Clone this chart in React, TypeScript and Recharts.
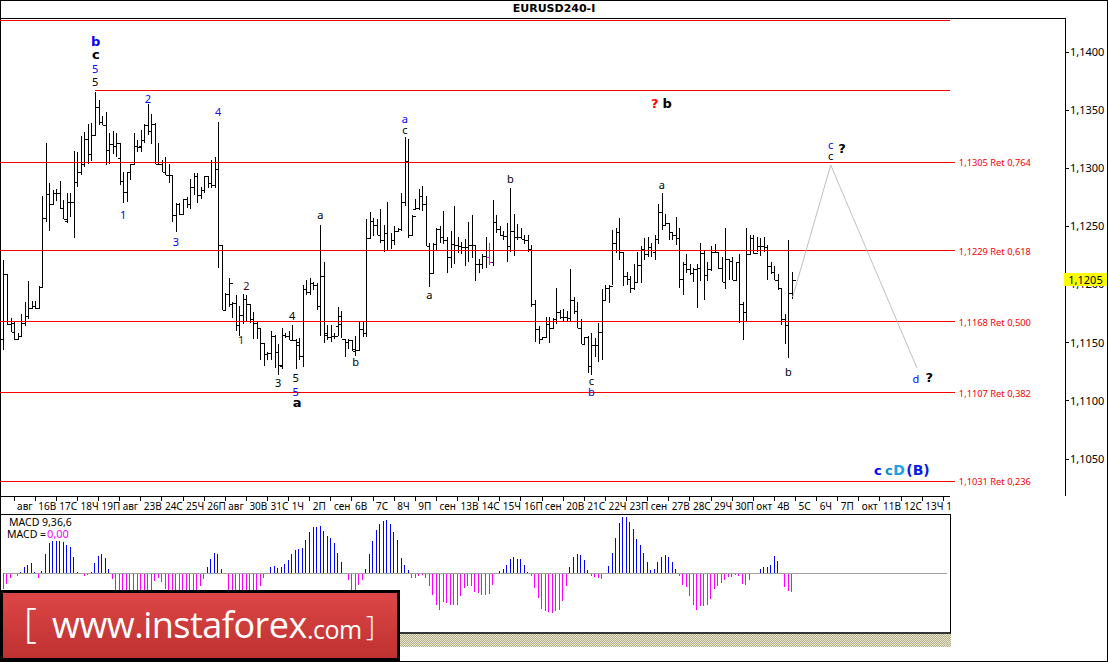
import React from 'react';
import { ComposedChart, Bar, Cell, Line, XAxis, YAxis, ReferenceLine, ReferenceDot } from 'recharts';

// prices in 1/10000, bar index starts at 1
const opens = [
  11153,11209,11166,11159,11153,11156,11167,11173,11180,11182,11180,11198,11257,11278,11269,11279,11279,11266,11255,11271,
  11271,11288,11297,11304,11325,11312,11329,11353,11340,11337,11316,11321,11319,11309,11289,11280,11297,11304,11319,11319,
  11324,11337,11332,11338,11304,11304,11297,11294,11294,11260,11269,11261,11274,11269,11284,11293,11277,11281,11293,11287,
  11286,11299,11234,11178,11192,11183,11184,11165,11174,11188,11183,11170,11167,11163,11150,11140,11141,11156,11142,11130,
  11157,11156,11152,11152,11148,11139,11196,11194,11201,11200,11182,11207,11157,11155,11156,11164,11166,11153,11151,11152,
  11143,11144,11162,11158,11240,11255,11251,11243,11238,11244,11230,11238,11246,11248,11271,11306,11243,11265,11266,11276,
  11269,11233,11210,11235,11248,11241,11238,11224,11235,11234,11233,11232,11232,11234,11234,11218,11218,11225,11224,11219,
  11254,11248,11243,11242,11233,11246,11241,11241,11239,11238,11231,11183,11162,11153,11155,11166,11163,11170,11176,11172,
  11172,11171,11187,11177,11163,11149,11155,11130,11148,11148,11159,11187,11197,11199,11236,11245,11228,11207,11205,11197,
  11202,11217,11231,11226,11232,11228,11239,11262,11251,11253,11245,11243,11240,11205,11218,11213,11210,11213,11214,11227,
  11208,11213,11228,11228,11214,11202,11222,11220,11204,11219,11183,11176,11226,11240,11227,11233,11233,11232,11216,11211,
  11204,11197,11170,11165,11193,
];
const highs = [
  11221,11209,11171,11168,11158,11175,11185,11203,11186,11186,11199,11276,11322,11287,11281,11282,11289,11273,11279,11279,
  11315,11314,11328,11331,11338,11339,11366,11359,11345,11348,11330,11332,11330,11322,11297,11297,11304,11330,11324,11333,
  11338,11355,11347,11339,11322,11307,11310,11304,11294,11270,11270,11274,11275,11291,11296,11296,11284,11293,11293,11307,
  11310,11340,11234,11193,11206,11185,11191,11182,11192,11191,11183,11176,11168,11163,11150,11142,11160,11157,11149,11163,
  11158,11160,11165,11153,11154,11200,11204,11206,11202,11201,11251,11219,11165,11165,11158,11181,11177,11152,11153,11152,
  11156,11168,11168,11256,11262,11257,11256,11265,11251,11271,11244,11250,11249,11279,11327,11325,11260,11274,11282,11285,
  11276,11236,11236,11249,11250,11263,11241,11246,11268,11241,11237,11239,11254,11260,11234,11222,11226,11241,11236,11273,
  11260,11250,11246,11253,11283,11261,11252,11249,11243,11243,11234,11187,11164,11155,11172,11172,11171,11197,11178,11179,
  11177,11213,11189,11185,11170,11155,11156,11158,11154,11167,11196,11200,11200,11247,11249,11257,11228,11211,11207,11218,
  11228,11233,11240,11241,11236,11243,11269,11279,11261,11253,11245,11258,11249,11219,11226,11218,11214,11218,11236,11230,
  11219,11233,11235,11228,11224,11249,11222,11224,11219,11226,11185,11249,11243,11243,11241,11240,11241,11234,11219,11216,
  11209,11197,11175,11238,11211,
];
const lows = [
  11144,11165,11159,11152,11152,11156,11164,11170,11179,11179,11179,11198,11254,11246,11269,11272,11265,11256,11253,11258,
  11240,11284,11294,11301,11304,11306,11329,11337,11337,11303,11304,11312,11310,11286,11270,11271,11290,11304,11314,11314,
  11322,11329,11321,11304,11303,11297,11294,11287,11254,11245,11260,11261,11266,11265,11277,11270,11274,11279,11283,11283,
  11283,11214,11178,11178,11181,11171,11160,11156,11166,11168,11167,11153,11153,11135,11130,11135,11135,11128,11122,11127,
  11154,11152,11152,11127,11135,11129,11191,11191,11195,11178,11156,11150,11152,11151,11153,11156,11154,11138,11145,11143,
  11139,11144,11155,11155,11240,11242,11243,11236,11228,11229,11231,11234,11245,11246,11268,11240,11243,11264,11264,11263,
  11233,11198,11210,11229,11236,11235,11210,11214,11218,11227,11226,11216,11219,11223,11203,11210,11213,11214,11217,11216,
  11244,11242,11238,11219,11228,11225,11238,11239,11235,11228,11181,11151,11149,11152,11155,11150,11163,11166,11170,11169,
  11168,11169,11175,11163,11149,11149,11124,11122,11138,11133,11135,11187,11184,11200,11227,11221,11199,11200,11193,11195,
  11202,11201,11221,11224,11224,11221,11235,11247,11251,11238,11238,11234,11197,11191,11210,11208,11202,11180,11203,11187,
  11203,11212,11228,11213,11202,11196,11204,11204,11204,11167,11152,11168,11226,11226,11228,11225,11228,11204,11209,11204,
  11195,11165,11149,11137,11188,
];
const closes = [
  11209,11166,11167,11153,11156,11167,11173,11180,11182,11180,11198,11257,11278,11269,11279,11279,11266,11256,11271,11271,
  11288,11297,11304,11325,11312,11329,11353,11340,11337,11316,11321,11319,11322,11289,11280,11297,11304,11319,11318,11324,
  11337,11332,11338,11304,11304,11297,11294,11294,11260,11269,11261,11274,11269,11284,11293,11277,11281,11293,11287,11286,
  11299,11234,11178,11192,11201,11184,11165,11174,11188,11183,11170,11167,11163,11150,11140,11141,11156,11142,11131,11157,
  11156,11152,11152,11151,11139,11196,11194,11201,11200,11182,11207,11158,11155,11156,11156,11173,11153,11151,11152,11145,
  11144,11162,11158,11240,11255,11251,11243,11238,11244,11230,11238,11246,11248,11271,11306,11243,11259,11266,11276,11269,
  11233,11210,11235,11248,11241,11238,11224,11235,11234,11233,11232,11232,11234,11234,11218,11218,11225,11224,11219,11254,
  11248,11243,11242,11233,11246,11241,11241,11239,11238,11231,11183,11162,11153,11155,11166,11163,11170,11176,11172,11172,
  11171,11187,11177,11163,11149,11155,11130,11148,11148,11159,11187,11197,11199,11236,11245,11228,11207,11205,11197,11202,
  11217,11231,11226,11232,11230,11239,11262,11251,11253,11245,11243,11240,11205,11218,11213,11210,11213,11214,11227,11208,
  11213,11228,11228,11214,11202,11222,11220,11204,11219,11183,11176,11226,11240,11227,11233,11233,11232,11216,11211,11204,
  11197,11170,11165,11193,11204,
];
const MAGENTA_BAR = 139;

const macdValues = [
  -48,-33,-14,-3,-8,2,18,24,30,4,-14,6,58,90,96,96,96,92,84,78,
  48,3,0,-8,-5,4,30,52,58,45,12,-17,-55,-60,-65,-70,-70,-68,-65,-62,
  -58,-55,-52,-25,-15,-27,-48,-55,-60,-65,-68,-68,-65,-60,-55,-50,-40,-18,17,43,
  60,57,12,0,-55,-70,-80,-85,-85,-80,-75,-70,-55,-38,-14,1,18,20,15,18,
  28,40,58,68,72,74,98,123,137,137,140,125,112,105,90,60,32,0,-22,-50,
  -50,-35,-20,12,58,95,128,148,156,158,148,122,98,45,25,10,
  -14,-14,-10,-7,-14,-40,-65,-97,-110,-88,-90,-95,-97,-95,-68,-45,-38,-40,-58,-60,
  -65,-67,-62,-35,-4,7,13,25,43,47,43,43,25,4,-10,-45,-75,-107,-115,-118,
  -121,-115,-110,-83,-38,17,49,58,55,40,10,-8,-13,-14,-17,0,20,60,105,150,
  168,168,153,132,102,85,60,32,10,13,32,48,55,47,34,13,-10,-35,-42,-70,
  -95,-110,-100,-100,-97,-77,-47,-38,-30,-20,-13,-13,-7,-10,-33,-35,-20,0,1,13,
  19,17,25,52,37,0,-42,-55,-58,
];

const timeLabels = [
  'авг','16В','17С','18Ч','19П','авг','23В','24С','25Ч','26П','авг','30В','31С','1Ч','2П','сен','6В','7С','8Ч','9П',
  'сен','13В','14С','15Ч','16П','сен','20В','21С','22Ч','23П','сен','27В','28С','29Ч','30П','окт','4В','5С','6Ч','7П',
  'окт','11В','12С','13Ч','1',
];
const timeTicks = timeLabels.map((_, k) => 4 + 6 * k);
const priceTicks = [1.105, 1.11, 1.115, 1.12, 1.125, 1.13, 1.135, 1.14];

const fibLevels = [
  { price: 1.1305, text: '1,1305 Ret 0,764' },
  { price: 1.1229, text: '1,1229 Ret 0,618' },
  { price: 1.1168, text: '1,1168 Ret 0,500' },
  { price: 1.1107, text: '1,1107 Ret 0,382' },
  { price: 1.1031, text: '1,1031 Ret 0,236' },
];
const plainLevels = [1.14275, 1.13665];
const forecast = [
  { i: 225.2, p: 1.11893 },
  { i: 236, p: 1.13028 },
  { i: 260.5, p: 1.11283 },
];

const BLUE = '#0000ff';
const BLACK = '#000000';
const waveLabels = [
  { i: 27.2, p: 1.1409, t: 'b', c: BLUE, b: true },
  { i: 27.2, p: 1.1397, t: 'c', c: BLACK, b: true },
  { i: 27, p: 1.1385, t: '5', c: BLUE },
  { i: 27, p: 1.1374, t: '5', c: BLACK },
  { i: 42, p: 1.136, t: '2', c: BLUE },
  { i: 62, p: 1.1348, t: '4', c: '#3010e0' },
  { i: 35, p: 1.126, t: '1', c: BLUE },
  { i: 50, p: 1.1237, t: '3', c: BLUE },
  { i: 91, p: 1.126, t: 'a', c: BLACK },
  { i: 115, p: 1.1342, t: 'a', c: BLUE },
  { i: 115, p: 1.1333, t: 'c', c: BLACK },
  { i: 122, p: 1.1191, t: 'a', c: BLACK },
  { i: 145, p: 1.1291, t: 'b', c: BLACK },
  { i: 168, p: 1.1117, t: 'c', c: BLACK },
  { i: 168, p: 1.1108, t: 'b', c: BLUE },
  { i: 188, p: 1.1286, t: 'a', c: BLACK },
  { i: 224, p: 1.1125, t: 'b', c: BLACK },
  { i: 68.5, p: 1.1152, t: '1', c: '#401010' },
  { i: 70, p: 1.1199, t: '2', c: '#401010' },
  { i: 79, p: 1.1115, t: '3', c: BLACK },
  { i: 83, p: 1.1173, t: '4', c: BLACK },
  { i: 84, p: 1.112, t: '5', c: BLACK },
  { i: 84, p: 1.1108, t: '5', c: BLUE },
  { i: 84.4, p: 1.1098, t: 'a', c: BLACK, b: true },
  { i: 101, p: 1.1133, t: 'b', c: BLACK },
  { i: 186, p: 1.1355, t: '?', c: '#ff0000', b: true },
  { i: 189.5, p: 1.1355, t: 'b', c: BLACK, b: true },
  { i: 236, p: 1.132, t: 'c', c: BLUE },
  { i: 236, p: 1.1311, t: 'c', c: BLACK },
  { i: 239.2, p: 1.1317, t: '?', c: BLACK, b: true },
  { i: 260.2, p: 1.1119, t: 'd', c: BLUE },
  { i: 264, p: 1.112, t: '?', c: BLACK, b: true },
  { i: 249.4, p: 1.104, t: 'c', c: BLUE, b: true },
  { i: 252.5, p: 1.104, t: 'c', c: '#0090d0', b: true },
  { i: 255.4, p: 1.104, t: 'D', c: '#20a0e0', b: true, s: 14 },
  { i: 260.8, p: 1.104, t: '(B)', c: '#0a20e0', b: true, s: 14 },
];

const priceData = opens.map((o, k) => ({
  i: k + 1,
  o: o / 10000,
  h: highs[k] / 10000,
  l: lows[k] / 10000,
  c: closes[k] / 10000,
}));
const macdData = macdValues.map((v, k) => ({ i: k + 1, v }));

const PRICE_TOP = 1.142924;
const PRICE_BOTTOM = 1.10182;
const LAST_SLOT = 302.56;
const AXIS_END = 269.9;
const UI_FONT = '"Noto Sans", sans-serif';
const RED = '#f60000';

function OhlcBar(props: any) {
  const { x, y, width, height, payload } = props;
  const cx = Math.round(x + width / 2) + 0.5;
  const span = payload.h - payload.l;
  const openY = Math.round(y + ((payload.h - payload.o) / span) * height) + 0.5;
  const closeY = Math.round(y + ((payload.h - payload.c) / span) * height) + 0.5;
  const stroke = payload.i === MAGENTA_BAR ? '#ff00ff' : '#000';
  return (
    <g stroke={stroke} strokeWidth={1} shapeRendering="crispEdges">
      <line x1={cx} x2={cx} y1={y} y2={y + height} />
      <line x1={cx - 3} x2={cx} y1={openY} y2={openY} />
      <line x1={cx} x2={cx + 3} y1={closeY} y2={closeY} />
    </g>
  );
}

function TimeTick(props: any) {
  const { x, y, index } = props;
  return (
    <g>
      <line x1={x} x2={x} y1={y} y2={y + 5} stroke="#000" shapeRendering="crispEdges" />
      <text x={x + 3} y={y + 14} fontSize={10} fontFamily={UI_FONT} fill="#000">
        {timeLabels[index]}
      </text>
    </g>
  );
}

export default function App() {
  return (
    <div style={{ position: 'absolute', left: 0, top: 0, width: 1108, height: 662, background: '#fff', overflow: 'hidden' }}>
      <div
        style={{
          position: 'absolute', left: 0, top: 0, width: 1106, height: 660, border: '1px solid #000',
        }}
      />
      <div
        style={{
          position: 'absolute', left: 0, top: 2, width: 1108, textAlign: 'center',
          fontFamily: '"DejaVu Sans", sans-serif', fontWeight: 700, fontSize: 11,
        }}
      >
        EURUSD240-I
      </div>

      <div style={{ position: 'absolute', left: 0, top: 0 }}>
        <ComposedChart
          width={1108}
          height={662}
          data={priceData}
          margin={{ top: 18, right: 0, bottom: 148, left: 0 }}
        >
          <XAxis
            dataKey="i"
            type="number"
            domain={[0, LAST_SLOT]}
            ticks={timeTicks}
            interval={0}
            height={18}
            axisLine={false}
            tickLine={false}
            tickSize={0}
            tickMargin={0}
            tick={<TimeTick />}
          />
          <YAxis
            orientation="right"
            width={43}
            domain={[PRICE_BOTTOM, PRICE_TOP]}
            ticks={priceTicks}
            interval={0}
            axisLine={{ stroke: '#000', shapeRendering: 'crispEdges' }}
            tickLine={{ stroke: '#000', shapeRendering: 'crispEdges' }}
            tickSize={4}
            tickMargin={1}
            tickFormatter={(v: number) => v.toFixed(4).replace('.', ',')}
            tick={{ fill: '#000', fontSize: 11, fontFamily: UI_FONT }}
          />
          <ReferenceLine y={PRICE_TOP} stroke="#000" shapeRendering="crispEdges" />
          <ReferenceLine
            segment={[{ x: 0, y: PRICE_BOTTOM }, { x: AXIS_END, y: PRICE_BOTTOM }]}
            stroke="#000"
            shapeRendering="crispEdges"
          />
          {plainLevels.map((p) => (
            <ReferenceLine
              key={p}
              segment={[{ x: p > 1.14 ? 0 : 27, y: p }, { x: AXIS_END, y: p }]}
              stroke={RED}
              shapeRendering="crispEdges"
            />
          ))}
          {fibLevels.map((f) => (
            <ReferenceLine
              key={f.price}
              segment={[{ x: 0, y: f.price }, { x: 271.2, y: f.price }]}
              stroke={RED}
              shapeRendering="crispEdges"
            />
          ))}
          {fibLevels.map((f) => (
            <ReferenceDot
              key={f.text}
              x={272.4}
              y={f.price}
              r={0}
              shape={(p: any) => (
                <text x={p.cx} y={p.cy} dy={4} fontSize={9.3} fontFamily={UI_FONT} fill={RED}>
                  {f.text}
                </text>
              )}
            />
          ))}
          <Bar
            dataKey={(d: any) => [d.l, d.h]}
            barSize={1}
            shape={<OhlcBar />}
            isAnimationActive={false}
          />
          <Line
            data={forecast}
            dataKey="p"
            stroke="#c0c0c0"
            strokeWidth={1}
            dot={false}
            isAnimationActive={false}
          />
          {waveLabels.map((w, k) => (
            <ReferenceDot
              key={k}
              x={w.i}
              y={w.p}
              r={0}
              shape={(p: any) => (
                <text
                  x={p.cx}
                  y={p.cy}
                  dy={4}
                  textAnchor="middle"
                  fontSize={w.s ?? (w.b ? 13 : 11)}
                  fontWeight={w.b ? 700 : 400}
                  fontFamily={w.b ? '"DejaVu Sans", sans-serif' : UI_FONT}
                  fill={w.c}
                >
                  {w.t}
                </text>
              )}
            />
          ))}
        </ComposedChart>
      </div>

      {/* last price tag sits over the axis labels */}
      <div
        style={{
          position: 'absolute', left: 1064, top: 273, width: 43, height: 13, background: '#ffff00',
          fontFamily: UI_FONT, fontSize: 11, lineHeight: '13px', textAlign: 'center', color: '#000',
        }}
      >
        1,1205
      </div>

      {/* MACD panel */}
      <div
        style={{
          position: 'absolute', left: 0, top: 514, width: 950, height: 117,
          borderTop: '1px solid #000', borderRight: '1px solid #000', borderBottom: '3px solid #333',
        }}
      />
      <div style={{ position: 'absolute', left: 0, top: 514 }}>
        <ComposedChart width={1065} height={118} data={macdData} margin={{ top: 0, right: 0, bottom: 0, left: 0 }}>
          <XAxis dataKey="i" type="number" domain={[0, LAST_SLOT]} hide />
          <YAxis domain={[-177, 177]} hide />
          <ReferenceLine
            segment={[{ x: 1, y: 0 }, { x: 269, y: 0 }]}
            stroke="#a0a0a0"
            shapeRendering="crispEdges"
          />
          <Bar dataKey="v" barSize={1} shapeRendering="crispEdges" isAnimationActive={false}>
            {macdValues.map((v, k) => (
              <Cell key={k} fill={v >= 0 ? '#0000ff' : '#ff00ff'} shapeRendering="crispEdges" />
            ))}
          </Bar>
        </ComposedChart>
      </div>
      <div style={{ position: 'absolute', left: 9, top: 516, fontFamily: UI_FONT, fontSize: 10.5, lineHeight: '12px' }}>
        MACD 9,36,6
      </div>
      <div style={{ position: 'absolute', left: 7, top: 528, fontFamily: UI_FONT, fontSize: 10.5, lineHeight: '12px' }}>
        MACD =<span style={{ color: '#ff00ff', marginLeft: 1, fontSize: 11 }}>0,00</span>
      </div>
      <div
        style={{
          position: 'absolute', left: 0, top: 634, width: 951, height: 13,
          backgroundImage: 'conic-gradient(#b3b08a 25%, #e8e6d2 0 50%, #b3b08a 0 75%, #e8e6d2 0)',
          backgroundSize: '2px 2px',
        }}
      />

      {/* logo */}
      <div
        style={{
          position: 'absolute', left: 0, top: 590, width: 394, height: 65,
          border: '3px solid #000', borderWidth: '3px 3px 4px 3px',
          background: 'linear-gradient(#dd4646, #bf3131)', color: '#fff',
          fontFamily: '"Open Sans", sans-serif', whiteSpace: 'nowrap',
        }}
      >
        <span style={{ position: 'absolute', left: 21, top: 1, fontSize: 40, fontWeight: 300 }}>[</span>
        <span style={{ position: 'absolute', left: 49, top: 7, fontSize: 36, letterSpacing: -0.5 }}>www.instaforex</span>
        <span style={{ position: 'absolute', left: 304, top: 19, fontSize: 25, letterSpacing: -0.5 }}>.com</span>
        <span style={{ position: 'absolute', left: 363, top: 13, fontSize: 28, fontWeight: 300 }}>]</span>
      </div>
    </div>
  );
}
